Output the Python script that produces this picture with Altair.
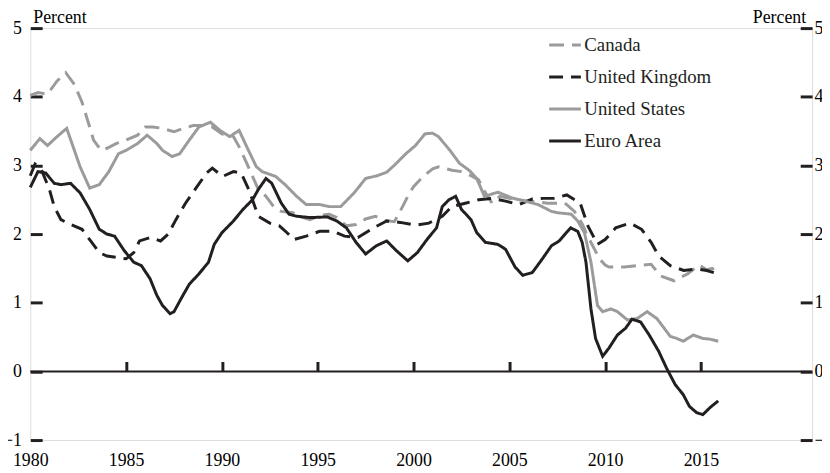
import altair as alt
import pandas as pd

BLACK = "#231f20"
GRAY = "#9b9b9b"

NAMES = ["Canada", "United Kingdom", "United States", "Euro Area"]
COLORS = [GRAY, BLACK, GRAY, BLACK]
DASHES = [[15, 8], [14, 8], [1, 0], [1, 0]]

CAN_Y = [1980.0, 1980.4, 1980.9, 1981.4, 1981.85, 1982.3, 1982.7, 1983.1, 1983.3, 1983.7,
         1984.0, 1984.5, 1985.0, 1985.6, 1986.0, 1986.4, 1986.9, 1987.5, 1988.0, 1988.5,
         1989.0, 1989.5, 1990.0, 1990.6, 1990.9, 1991.3, 1991.6, 1991.9, 1992.3, 1992.7,
         1993.1, 1993.7, 1994.1, 1994.6, 1995.1, 1995.6, 1996.0, 1996.5, 1997.0, 1997.5,
         1998.0, 1998.5, 1999.0, 1999.3, 1999.7, 2000.0, 2000.5, 2001.0, 2001.3, 2002.0,
         2002.5, 2003.0, 2003.4, 2003.6, 2004.1, 2004.5, 2005.0, 2006.0, 2007.0, 2007.9,
         2008.4, 2008.8, 2009.0, 2009.7, 2010.0, 2010.2, 2011.0, 2011.7, 2012.4, 2012.9,
         2013.6, 2014.3, 2014.9, 2015.3, 2015.6, 2015.9]
CAN_V = [4.02, 4.06, 4.04, 4.23, 4.35, 4.18, 3.92, 3.56, 3.37, 3.22,
         3.25, 3.32, 3.37, 3.44, 3.56, 3.56, 3.54, 3.49, 3.54, 3.58,
         3.58, 3.56, 3.46, 3.42, 3.27, 3.03, 2.84, 2.65, 2.55, 2.40,
         2.33, 2.31, 2.25, 2.21, 2.27, 2.29, 2.24, 2.12, 2.14, 2.22,
         2.26, 2.20, 2.18, 2.33, 2.55, 2.69, 2.84, 2.95, 2.98, 2.93,
         2.91, 2.85, 2.79, 2.67, 2.45, 2.55, 2.52, 2.48, 2.45, 2.45,
         2.33, 2.15, 2.02, 1.64, 1.55, 1.52, 1.52, 1.54, 1.56, 1.39,
         1.32, 1.42, 1.55, 1.48, 1.50, 1.40]

UK_Y = [1980.0, 1980.25, 1980.55, 1981.0, 1981.25, 1981.6, 1982.1, 1982.7, 1983.15, 1983.6,
        1984.0, 1984.5, 1985.0, 1985.4, 1985.7, 1986.25, 1986.8, 1987.2, 1987.6, 1988.1,
        1988.7, 1989.2, 1989.5, 1990.04, 1990.6, 1991.0, 1991.4, 1991.9, 1992.5, 1993.0,
        1993.4, 1993.75, 1994.4, 1995.1, 1995.8, 1996.4, 1997.1, 1997.9, 1998.6, 1999.3,
        2000.1, 2000.8, 2001.5, 2002.0, 2002.7, 2003.4, 2004.1, 2004.8, 2005.5, 2006.2,
        2006.8, 2007.3, 2008.0, 2008.7, 2009.1, 2009.6, 2010.0, 2010.55, 2011.3, 2011.9,
        2012.4, 2012.8, 2013.4, 2014.1, 2014.8, 2015.3, 2015.9]
UK_V = [2.85, 3.02, 2.96, 2.65, 2.40, 2.21, 2.14, 2.07, 1.90, 1.73,
        1.68, 1.66, 1.64, 1.73, 1.90, 1.95, 1.90, 2.00, 2.21, 2.45,
        2.69, 2.89, 2.96, 2.84, 2.91, 2.89, 2.65, 2.26, 2.16, 2.12,
        2.02, 1.92, 1.97, 2.04, 2.04, 1.97, 1.95, 2.09, 2.19, 2.17,
        2.13, 2.16, 2.26, 2.40, 2.45, 2.50, 2.52, 2.48, 2.43, 2.51,
        2.52, 2.52, 2.57, 2.45, 2.12, 1.85, 1.92, 2.09, 2.16, 2.07,
        1.88, 1.68, 1.54, 1.47, 1.49, 1.47, 1.42]

US_Y = [1980.0, 1980.5, 1980.9, 1981.4, 1981.9, 1982.3, 1982.6, 1983.1, 1983.6, 1984.1,
        1984.6, 1985.0, 1985.6, 1986.1, 1986.6, 1986.9, 1987.4, 1987.8, 1988.3, 1988.8,
        1989.4, 1989.9, 1990.4, 1990.9, 1991.3, 1991.8, 1992.1, 1992.8, 1993.3, 1993.9,
        1994.4, 1995.1, 1995.6, 1996.2, 1996.9, 1997.5, 1998.1, 1998.6, 1999.1, 1999.6,
        2000.1, 2000.6, 2001.0, 2001.3, 2001.9, 2002.4, 2002.9, 2003.3, 2003.7, 2004.4,
        2005.1, 2005.8, 2006.5, 2007.2, 2007.54, 2008.23, 2008.57, 2008.92, 2009.26, 2009.6,
        2009.87, 2010.3, 2010.64, 2011.16, 2011.67, 2012.19, 2012.7, 2013.4, 2013.74, 2014.08,
        2014.6, 2015.1, 2015.46, 2015.9]
US_V = [3.22, 3.39, 3.29, 3.42, 3.54, 3.22, 2.98, 2.67, 2.72, 2.91,
        3.17, 3.22, 3.32, 3.44, 3.32, 3.22, 3.13, 3.17, 3.37, 3.56,
        3.63, 3.51, 3.42, 3.51, 3.27, 2.98, 2.91, 2.84, 2.72, 2.55,
        2.43, 2.43, 2.40, 2.40, 2.60, 2.81, 2.85, 2.90, 3.03, 3.17,
        3.29, 3.46, 3.47, 3.42, 3.22, 3.03, 2.93, 2.81, 2.55, 2.61,
        2.53, 2.48, 2.43, 2.33, 2.31, 2.29, 2.19, 2.02, 1.59, 0.96,
        0.87, 0.91, 0.87, 0.75, 0.77, 0.87, 0.77, 0.51, 0.48, 0.44,
        0.53, 0.48, 0.47, 0.44]

EA_Y = [1980.0, 1980.4, 1980.8, 1981.25, 1981.6, 1982.1, 1982.6, 1983.1, 1983.6, 1984.0,
        1984.4, 1984.9, 1985.4, 1985.8, 1986.25, 1986.6, 1986.9, 1987.3, 1987.5, 1987.97,
        1988.3, 1988.8, 1989.3, 1989.6, 1990.0, 1990.6, 1991.1, 1991.6, 1991.9, 1992.3,
        1992.6, 1993.1, 1993.5, 1993.9, 1994.6, 1995.5, 1996.0, 1996.5, 1997.0, 1997.5,
        1998.06, 1998.6, 1999.1, 1999.7, 2000.2, 2000.7, 2001.2, 2001.5, 2001.85, 2002.2,
        2002.5, 2003.0, 2003.3, 2003.75, 2004.4, 2004.8, 2005.3, 2005.7, 2006.2, 2006.7,
        2007.2, 2007.6, 2007.97, 2008.2, 2008.57, 2008.8, 2009.0, 2009.26, 2009.5, 2009.87,
        2010.2, 2010.64, 2011.07, 2011.4, 2011.85, 2012.3, 2012.8, 2013.2, 2013.65, 2014.08,
        2014.4, 2014.77, 2015.1, 2015.46, 2015.9]
EA_V = [2.68, 2.91, 2.89, 2.74, 2.72, 2.74, 2.60, 2.36, 2.07, 2.00,
        1.97, 1.76, 1.59, 1.54, 1.35, 1.11, 0.96, 0.84, 0.87, 1.11,
        1.27, 1.42, 1.59, 1.85, 2.02, 2.19, 2.36, 2.50, 2.65, 2.81,
        2.74, 2.45, 2.29, 2.26, 2.24, 2.25, 2.19, 2.09, 1.88, 1.71,
        1.83, 1.90, 1.76, 1.61, 1.73, 1.92, 2.09, 2.40, 2.50, 2.55,
        2.36, 2.21, 2.02, 1.88, 1.85, 1.78, 1.52, 1.40, 1.44, 1.63,
        1.83, 1.90, 2.02, 2.09, 2.04, 1.88, 1.59, 0.91, 0.48, 0.22,
        0.34, 0.53, 0.63, 0.76, 0.72, 0.53, 0.29, 0.05, -0.19, -0.34,
        -0.51, -0.60, -0.63, -0.53, -0.43]

X_LABELS = [1980, 1985, 1990, 1995, 2000, 2005, 2010, 2015]
X_TICKS = [1985, 1990, 1995, 2000, 2005, 2010, 2015]
Y_TICKS = [-1, 0, 1, 2, 3, 4, 5]
X_DOMAIN = [1980, 2020.8]
Y_DOMAIN = [-1, 5]

W, H = 789.5, 416
FONT = "Liberation Serif"

rows = []
for name, ys, vs in [("Canada", CAN_Y, CAN_V), ("United Kingdom", UK_Y, UK_V),
                     ("United States", US_Y, US_V), ("Euro Area", EA_Y, EA_V)]:
    for yr, v in zip(ys, vs):
        rows.append({"series": name, "year": yr, "value": v})
df = pd.DataFrame(rows)

xscale = alt.Scale(domain=X_DOMAIN, nice=False, zero=False)
yscale = alt.Scale(domain=Y_DOMAIN, nice=False, zero=False)

legend = alt.Legend(title=None, orient="none", legendX=522.5, legendY=-0.5,
                    symbolType="stroke", symbolSize=1024, symbolStrokeWidth=3,
                    labelFontSize=19, labelOffset=2, rowPadding=4.3, padding=0,
                    labelColor=BLACK, labelFont=FONT, labelLimit=300)

lines = alt.Chart(df).mark_line(strokeWidth=3, strokeCap="butt").encode(
    x=alt.X("year:Q", scale=xscale,
            axis=alt.Axis(orient="bottom", values=X_LABELS, format="d", labelFlush=False,
                          ticks=False, tickSize=0, domain=False, grid=False,
                          labelPadding=12, title=None, labelFontSize=18)),
    y=alt.Y("value:Q", scale=yscale,
            axis=alt.Axis(orient="left", values=Y_TICKS, offset=-12, tickSize=12, tickWidth=3,
                          tickColor=BLACK, domain=False, grid=False, labelPadding=9,
                          labelFontSize=18, title="Percent", titleAngle=0, titleX=-9.5,
                          titleY=-6, titleAlign="left", titleBaseline="alphabetic",
                          titleFontSize=18, titleFontWeight="normal")),
    color=alt.Color("series:N", scale=alt.Scale(domain=NAMES, range=COLORS), legend=legend),
    strokeDash=alt.StrokeDash("series:N", scale=alt.Scale(domain=NAMES, range=DASHES), legend=legend),
    order=alt.Order("year:Q"),
)

zero = alt.Chart(pd.DataFrame({"value": [0]})).mark_rule(strokeWidth=2, color=BLACK).encode(
    y=alt.Y("value:Q", scale=yscale,
            axis=alt.Axis(orient="right", values=Y_TICKS, offset=-12, tickSize=12, tickWidth=3,
                          tickColor=BLACK, domain=False, grid=False, labelPadding=2,
                          labelFontSize=18, title="Percent", titleAngle=0, titleX=5.5,
                          titleY=-6, titleAlign="right", titleBaseline="alphabetic",
                          titleFontSize=18, titleFontWeight="normal")),
)

xt = alt.Chart(pd.DataFrame({"year": X_TICKS})).mark_rule(strokeOpacity=0).encode(
    x=alt.X("year:Q", scale=xscale,
            axis=alt.Axis(orient="top", offset=-H * 5 / 6, values=X_TICKS, labels=False,
                          domain=False, tickSize=10, tickWidth=3, tickColor=BLACK,
                          grid=False, title=None)),
)

chart = alt.layer(lines, zero, xt).resolve_axis(x="independent", y="independent").properties(
    width=W, height=H,
    autosize=alt.AutoSizeParams(type="none"),
    padding={"left": 22.5, "top": 18, "right": 10, "bottom": 35},
).configure_view(stroke=BLACK, strokeWidth=3).configure_axis(
    labelFont=FONT, titleFont=FONT, labelColor=BLACK, titleColor=BLACK
).configure(font=FONT)

chart.save("out.html", embed_options={"renderer": "svg", "actions": False})
